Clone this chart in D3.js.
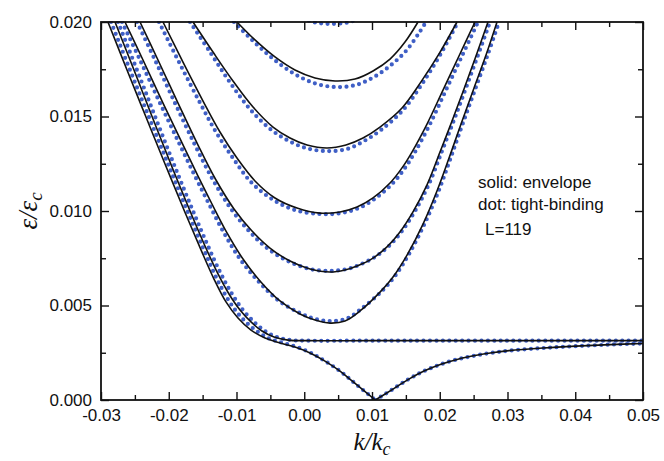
<!DOCTYPE html>
<html>
<head>
<meta charset="utf-8">
<script src="https://cdn.jsdelivr.net/npm/d3@7"></script>
<style>
  html, body { margin: 0; padding: 0; background: #fff; }
  svg { display: block; font-family: "Liberation Sans", Arial, sans-serif; }
</style>
</head>
<body>
<svg id="chart" width="664" height="461"></svg>
<script>
// ---- axes ----
const xTickValues = [-0.03, -0.02, -0.01, 0.00, 0.01, 0.02, 0.03, 0.04, 0.05];
const xTickLabels = ["-0.03", "-0.02", "-0.01", "0.00", "0.01", "0.02", "0.03", "0.04", "0.05"];
const xMinorTicks = [-0.025, -0.015, -0.005, 0.005, 0.015, 0.025, 0.035, 0.045];
const yTickValues = [0, 0.005, 0.010, 0.015, 0.020];
const yTickLabels = ["0.000", "0.005", "0.010", "0.015", "0.020"];
const yMinorTicks = [0.0025, 0.0075, 0.0125, 0.0175];

// ---- subbands, points are [k/kc, eps/epsc] ----
// envelope-function result (solid)
const band1Envelope = [[-0.00993,0.02000],[-0.00727,0.01905],[-0.00432,0.01815],[-0.00137,0.01746],[0.00159,0.01704],[0.00454,0.01688],[0.00749,0.01698],[0.01015,0.01741],[0.01266,0.01804],[0.01487,0.01894],[0.01679,0.02000]];
const band2Envelope = [[-0.01642,0.02000],[-0.01347,0.01841],[-0.01052,0.01688],[-0.00756,0.01550],[-0.00461,0.01444],[-0.00210,0.01386],[0.00041,0.01349],[0.00336,0.01333],[0.00616,0.01349],[0.00867,0.01386],[0.01118,0.01444],[0.01443,0.01545],[0.01723,0.01683],[0.01989,0.01831],[0.02255,0.02000]];
const band3Envelope = [[-0.02085,0.02000],[-0.01790,0.01788],[-0.01494,0.01582],[-0.01244,0.01418],[-0.00993,0.01280],[-0.00727,0.01159],[-0.00432,0.01069],[-0.00107,0.01016],[0.00232,0.00989],[0.00528,0.00995],[0.00779,0.01021],[0.01015,0.01069],[0.01266,0.01148],[0.01443,0.01228],[0.01590,0.01312],[0.01812,0.01460],[0.02048,0.01640],[0.02284,0.01820],[0.02520,0.02000]];
const band4Envelope = [[-0.02424,0.02000],[-0.02159,0.01799],[-0.01863,0.01571],[-0.01568,0.01349],[-0.01303,0.01164],[-0.01037,0.01011],[-0.00771,0.00894],[-0.00506,0.00804],[-0.00210,0.00735],[0.00085,0.00693],[0.00380,0.00677],[0.00601,0.00688],[0.00779,0.00709],[0.01015,0.00751],[0.01221,0.00810],[0.01413,0.00889],[0.01605,0.00995],[0.01812,0.01138],[0.02004,0.01312],[0.02181,0.01476],[0.02358,0.01646],[0.02535,0.01820],[0.02712,0.02000]];
const band5Envelope = [[-0.02646,0.02000],[-0.02380,0.01799],[-0.02085,0.01571],[-0.01804,0.01360],[-0.01568,0.01185],[-0.01362,0.01037],[-0.01140,0.00884],[-0.00904,0.00746],[-0.00653,0.00630],[-0.00358,0.00524],[-0.00063,0.00455],[0.00159,0.00423],[0.00380,0.00407],[0.00601,0.00418],[0.00823,0.00471],[0.01118,0.00571],[0.01310,0.00651],[0.01517,0.00767],[0.01753,0.00931],[0.01959,0.01106],[0.02137,0.01280],[0.02314,0.01460],[0.02506,0.01651],[0.02683,0.01825],[0.02845,0.02000]];
const flatBandEnvelope = [[-0.02793,0.02000],[-0.02513,0.01746],[-0.02232,0.01487],[-0.01952,0.01233],[-0.01686,0.01000],[-0.01465,0.00815],[-0.01273,0.00667],[-0.01111,0.00561],[-0.00948,0.00476],[-0.00786,0.00413],[-0.00624,0.00365],[-0.00446,0.00333],[-0.00240,0.00317],[0.00011,0.00314],[0.01000,0.00314],[0.03000,0.00314],[0.05000,0.00314]];
const lowestBandEnvelopeL = [[-0.02897,0.02000],[-0.02616,0.01746],[-0.02336,0.01497],[-0.02055,0.01249],[-0.01775,0.01005],[-0.01524,0.00794],[-0.01332,0.00640],[-0.01155,0.00519],[-0.00978,0.00434],[-0.00786,0.00370],[-0.00579,0.00328],[-0.00358,0.00302],[-0.00137,0.00280],[0.00085,0.00249],[0.00306,0.00206],[0.00528,0.00153],[0.00705,0.00101],[0.00867,0.00053],[0.01050,0.00000]];
const lowestBandEnvelopeR = [[0.01050,0.00000],[0.01280,0.00051],[0.01531,0.00108],[0.01768,0.00153],[0.02018,0.00189],[0.02269,0.00216],[0.02520,0.00235],[0.02771,0.00250],[0.03022,0.00261],[0.03524,0.00275],[0.04011,0.00285],[0.04513,0.00293],[0.05000,0.00299]];

// tight-binding result (dotted)
const band0TightBinding = [[-0.00100,0.02040],[0.00100,0.02003],[0.00250,0.01993],[0.00400,0.01990],[0.00550,0.01993],[0.00700,0.02003],[0.00900,0.02040]];
const band1TightBinding = [[-0.01037,0.02000],[-0.00771,0.01905],[-0.00476,0.01810],[-0.00166,0.01730],[0.00144,0.01677],[0.00454,0.01656],[0.00764,0.01667],[0.01030,0.01709],[0.01280,0.01772],[0.01502,0.01847],[0.01694,0.01942],[0.01797,0.02000]];
const band2TightBinding = [[-0.01686,0.02000],[-0.01391,0.01841],[-0.01111,0.01688],[-0.00815,0.01545],[-0.00520,0.01439],[-0.00255,0.01376],[0.00026,0.01333],[0.00336,0.01317],[0.00631,0.01328],[0.00882,0.01370],[0.01133,0.01429],[0.01458,0.01534],[0.01738,0.01672],[0.02004,0.01825],[0.02269,0.02000]];
const band3TightBinding = [[-0.02144,0.02000],[-0.01849,0.01788],[-0.01553,0.01582],[-0.01303,0.01418],[-0.01052,0.01280],[-0.00786,0.01153],[-0.00476,0.01063],[-0.00137,0.01005],[0.00232,0.00984],[0.00542,0.00989],[0.00808,0.01016],[0.01059,0.01069],[0.01310,0.01148],[0.01487,0.01228],[0.01635,0.01312],[0.01856,0.01460],[0.02092,0.01640],[0.02328,0.01820],[0.02565,0.02000]];
const band4TightBinding = [[-0.02469,0.02000],[-0.02203,0.01799],[-0.01908,0.01571],[-0.01613,0.01349],[-0.01347,0.01164],[-0.01081,0.01011],[-0.00815,0.00894],[-0.00550,0.00804],[-0.00240,0.00735],[0.00085,0.00693],[0.00380,0.00683],[0.00631,0.00693],[0.00808,0.00714],[0.01044,0.00757],[0.01251,0.00815],[0.01443,0.00894],[0.01635,0.01000],[0.01841,0.01143],[0.02033,0.01317],[0.02210,0.01481],[0.02387,0.01651],[0.02565,0.01825],[0.02742,0.02000]];
const band5TightBinding = [[-0.02690,0.02000],[-0.02424,0.01799],[-0.02129,0.01571],[-0.01849,0.01360],[-0.01613,0.01185],[-0.01406,0.01037],[-0.01185,0.00884],[-0.00948,0.00746],[-0.00683,0.00630],[-0.00373,0.00524],[-0.00063,0.00460],[0.00159,0.00429],[0.00380,0.00418],[0.00616,0.00429],[0.00838,0.00481],[0.01148,0.00577],[0.01339,0.00656],[0.01546,0.00772],[0.01782,0.00937],[0.01989,0.01111],[0.02166,0.01286],[0.02343,0.01466],[0.02535,0.01656],[0.02712,0.01831],[0.02875,0.02000]];
const flatBandTightBinding = [[-0.02749,0.02000],[-0.02469,0.01746],[-0.02188,0.01487],[-0.01908,0.01233],[-0.01642,0.01000],[-0.01421,0.00815],[-0.01229,0.00667],[-0.01066,0.00561],[-0.00904,0.00476],[-0.00742,0.00413],[-0.00579,0.00365],[-0.00402,0.00333],[-0.00196,0.00317],[0.00011,0.00314],[0.01000,0.00314],[0.03000,0.00314],[0.05000,0.00314]];
const lowestBandTightBindingL = [[-0.02852,0.02000],[-0.02572,0.01746],[-0.02292,0.01497],[-0.02011,0.01249],[-0.01731,0.01005],[-0.01480,0.00794],[-0.01288,0.00640],[-0.01111,0.00524],[-0.00934,0.00439],[-0.00742,0.00376],[-0.00535,0.00328],[-0.00314,0.00302],[-0.00107,0.00280],[0.00100,0.00249],[0.00306,0.00206],[0.00528,0.00153],[0.00705,0.00101],[0.00867,0.00053],[0.01050,0.00000]];
const lowestBandTightBindingR = [[0.01050,0.00000],[0.01280,0.00051],[0.01531,0.00108],[0.01768,0.00153],[0.02018,0.00189],[0.02269,0.00216],[0.02520,0.00235],[0.02771,0.00250],[0.03022,0.00261],[0.03524,0.00275],[0.04011,0.00285],[0.04513,0.00293],[0.05000,0.00299]];

const envelopeSeries = [band1Envelope, band2Envelope, band3Envelope, band4Envelope, band5Envelope,
  flatBandEnvelope, lowestBandEnvelopeL, lowestBandEnvelopeR];
const tightBindingSeries = [band0TightBinding, band1TightBinding, band2TightBinding, band3TightBinding,
  band4TightBinding, band5TightBinding, flatBandTightBinding, lowestBandTightBindingL, lowestBandTightBindingR];

const notes = ["solid: envelope", "dot: tight-binding", "L=119"];

// ---- layout ----
const svg = d3.select("#chart");
const plot = { left: 101, right: 643, top: 22, bottom: 400 };
const x = d3.scaleLinear().domain([-0.03, 0.05]).range([plot.left, plot.right]);
const y = d3.scaleLinear().domain([0, 0.02]).range([plot.bottom, plot.top]);

svg.append("defs").append("clipPath").attr("id", "plotClip")
  .append("rect")
  .attr("x", plot.left).attr("y", plot.top - 1)
  .attr("width", plot.right - plot.left).attr("height", plot.bottom - plot.top + 1);

const line = d3.line()
  .x(d => x(d[0]))
  .y(d => y(d[1]))
  .curve(d3.curveCatmullRom.alpha(0.5));

const curves = svg.append("g").attr("clip-path", "url(#plotClip)");

// tight-binding: round dots along each band
curves.append("g").selectAll("path")
  .data(tightBindingSeries)
  .join("path")
  .attr("d", line)
  .attr("fill", "none")
  .attr("stroke", "#3f5fc6")
  .attr("stroke-width", 4.2)
  .attr("stroke-linecap", "round")
  .attr("stroke-dasharray", "0 6.4");

// envelope: solid lines
curves.append("g").selectAll("path")
  .data(envelopeSeries)
  .join("path")
  .attr("d", line)
  .attr("fill", "none")
  .attr("stroke", "#111")
  .attr("stroke-width", 1.6);

// ---- axes with inward ticks on all four sides ----
const fontSize = 17;
function styleAxis(g) {
  g.select(".domain").remove();
  g.selectAll(".tick line").attr("stroke", "#111").attr("stroke-width", 1.4);
  g.selectAll(".tick text").attr("fill", "#111").style("font-size", fontSize + "px")
    .style("font-family", "'Liberation Sans', Arial, sans-serif");
}

svg.append("g").attr("transform", `translate(0,${plot.bottom})`)
  .call(d3.axisBottom(x).tickValues(xTickValues).tickFormat((d, i) => xTickLabels[i])
    .tickSizeInner(-8).tickSizeOuter(0).tickPadding(9))
  .call(styleAxis);
svg.append("g").attr("transform", `translate(0,${plot.bottom})`)
  .call(d3.axisBottom(x).tickValues(xMinorTicks).tickFormat("").tickSizeInner(-5).tickSizeOuter(0))
  .call(styleAxis);
svg.append("g").attr("transform", `translate(0,${plot.top})`)
  .call(d3.axisTop(x).tickValues(xTickValues).tickFormat("").tickSizeInner(-8).tickSizeOuter(0))
  .call(styleAxis);
svg.append("g").attr("transform", `translate(0,${plot.top})`)
  .call(d3.axisTop(x).tickValues(xMinorTicks).tickFormat("").tickSizeInner(-5).tickSizeOuter(0))
  .call(styleAxis);

svg.append("g").attr("transform", `translate(${plot.left},0)`)
  .call(d3.axisLeft(y).tickValues(yTickValues).tickFormat((d, i) => yTickLabels[i])
    .tickSizeInner(-8).tickSizeOuter(0).tickPadding(9))
  .call(styleAxis);
svg.append("g").attr("transform", `translate(${plot.left},0)`)
  .call(d3.axisLeft(y).tickValues(yMinorTicks).tickFormat("").tickSizeInner(-5).tickSizeOuter(0))
  .call(styleAxis);
svg.append("g").attr("transform", `translate(${plot.right},0)`)
  .call(d3.axisRight(y).tickValues(yTickValues).tickFormat("").tickSizeInner(-8).tickSizeOuter(0))
  .call(styleAxis);
svg.append("g").attr("transform", `translate(${plot.right},0)`)
  .call(d3.axisRight(y).tickValues(yMinorTicks).tickFormat("").tickSizeInner(-5).tickSizeOuter(0))
  .call(styleAxis);

// frame
svg.append("rect")
  .attr("x", plot.left).attr("y", plot.top)
  .attr("width", plot.right - plot.left).attr("height", plot.bottom - plot.top)
  .attr("fill", "none").attr("stroke", "#111").attr("stroke-width", 1.8);

// ---- axis titles ----
const serif = "'Liberation Serif', 'DejaVu Serif', serif";
const xTitle = svg.append("text")
  .attr("x", (plot.left + plot.right) / 2).attr("y", 450)
  .attr("text-anchor", "middle")
  .style("font-family", serif).style("font-style", "italic").style("font-size", "25px")
  .attr("fill", "#111");
xTitle.append("tspan").text("k/k");
xTitle.append("tspan").text("c").attr("baseline-shift", "-25%").style("font-size", "18px");

const yTitle = svg.append("text")
  .attr("transform", `translate(37,${(plot.top + plot.bottom) / 2}) rotate(-90)`)
  .attr("text-anchor", "middle")
  .style("font-family", serif).style("font-style", "italic").style("font-size", "27px")
  .attr("fill", "#111");
yTitle.append("tspan").text("ε/ε");
yTitle.append("tspan").text("c").attr("baseline-shift", "-25%").style("font-size", "19px");

// ---- annotation ----
const noteX = [478, 478, 485];
const noteY = [188, 210, 235];
svg.append("g").selectAll("text")
  .data(notes)
  .join("text")
  .attr("x", (d, i) => noteX[i]).attr("y", (d, i) => noteY[i])
  .style("font-size", "17px").attr("fill", "#111")
  .text(d => d);
</script>
</body>
</html>
